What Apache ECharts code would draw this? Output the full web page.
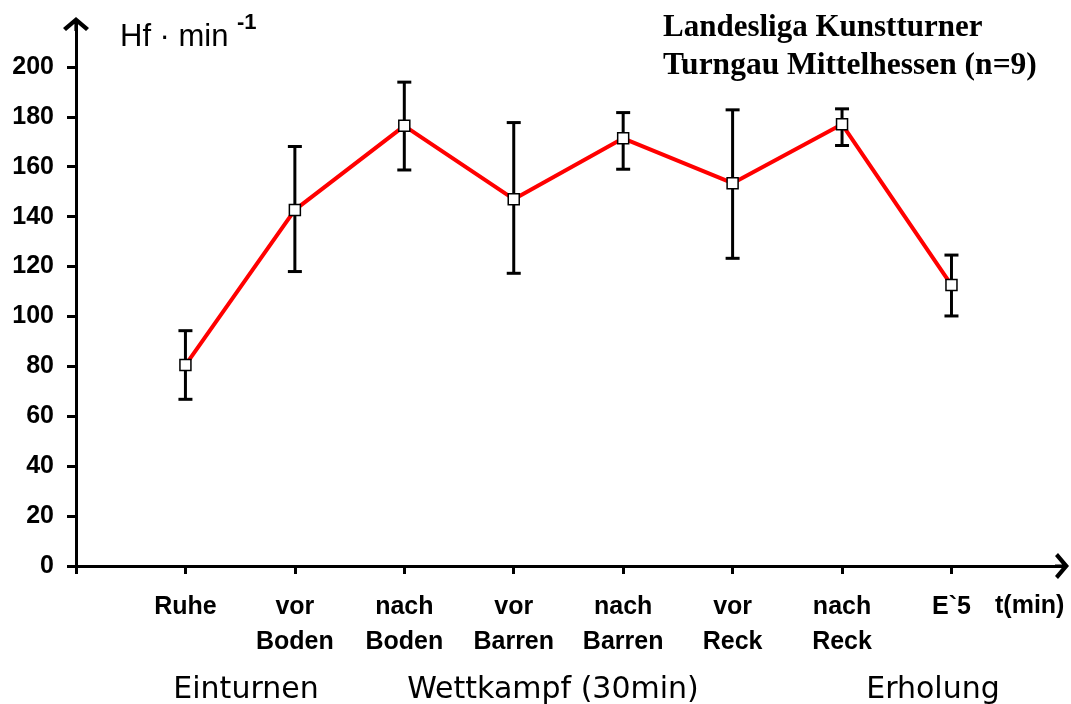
<!DOCTYPE html>
<html>
<head>
<meta charset="utf-8">
<script src="https://cdn.jsdelivr.net/npm/echarts@6/dist/echarts.min.js"></script>
<style>
html,body{margin:0;padding:0;background:#fff;}
#c{width:1071px;height:704px;}
</style>
</head>
<body>
<div id="c"></div>
<script>
// ---- data ----
var categories = ['Ruhe', 'vor\nBoden', 'nach\nBoden', 'vor\nBarren', 'nach\nBarren', 'vor\nReck', 'nach\nReck', 'E`5'];
var means = [80.5, 142.7, 176.4, 147.0, 171.4, 153.4, 177.0, 112.6];
var upper = [94.3, 168.1, 193.9, 177.7, 181.7, 182.8, 183.2, 124.6];
var lower = [66.8, 118.0, 158.7, 117.3, 159.0, 123.3, 168.5, 100.2];
var yTicks = [0, 20, 40, 60, 80, 100, 120, 140, 160, 180, 200];
var xPositions = [1, 2, 3, 4, 5, 6, 7, 8];
var xTicks = [0, 1, 2, 3, 4, 5, 6, 7, 8];
var groupLabels = ['Einturnen', 'Wettkampf (30min)', 'Erholung'];
var titleLines = ['Landesliga Kunstturner', 'Turngau Mittelhessen (n=9)'];

var lineData = means.map(function (v, i) { return [xPositions[i], v]; });
var errData = means.map(function (v, i) { return [xPositions[i], lower[i], upper[i]]; });

var arrowPath = 'path://M13,0 L26,11 L23,14 L13,5.6 L3,14 L0,11 Z M11.4,2 L14.6,2 L14.6,14 L11.4,14 Z';
var boldFont = '"Liberation Sans", Arial, sans-serif';
var serifFont = '"Liberation Serif", "Times New Roman", serif';

var chart = echarts.init(document.getElementById('c'), null, {renderer: 'canvas'});
chart.setOption({
  animation: false,
  backgroundColor: '#ffffff',
  grid: {left: 76, right: 9, top: 24, bottom: 138, containLabel: false},
  xAxis: {
    type: 'value',
    min: 0,
    max: 9.01,
    splitLine: {show: false},
    axisLine: {
      show: true, onZero: false,
      lineStyle: {color: '#000', width: 3},
      symbol: ['none', arrowPath],
      symbolSize: [26, 14]
    },
    axisTick: {show: true, length: 8, customValues: xTicks, lineStyle: {color: '#000', width: 3}},
    axisLabel: {
      show: true,
      customValues: xPositions,
      formatter: function (v) { return categories[Math.round(v) - 1] || ''; },
      color: '#000',
      fontFamily: boldFont,
      fontWeight: 'bold',
      fontSize: 25,
      lineHeight: 35,
      margin: 24,
      verticalAlign: 'top'
    }
  },
  yAxis: {
    type: 'value',
    min: 0,
    max: 217.2,
    splitLine: {show: false},
    axisLine: {
      show: true, onZero: false,
      lineStyle: {color: '#000', width: 3},
      symbol: ['none', arrowPath],
      symbolSize: [26, 14]
    },
    axisTick: {show: true, length: 9, customValues: yTicks, lineStyle: {color: '#000', width: 3}},
    axisLabel: {
      show: true,
      customValues: yTicks,
      color: '#000',
      fontFamily: boldFont,
      fontWeight: 'bold',
      fontSize: 25,
      margin: 22
    }
  },
  series: [
    {
      type: 'line',
      data: lineData,
      showSymbol: false,
      lineStyle: {color: '#ff0000', width: 4},
      z: 2
    },
    {
      type: 'custom',
      data: errData,
      z: 3,
      renderItem: function (params, api) {
        var x = api.value(0);
        var lo = api.coord([x, api.value(1)]);
        var hi = api.coord([x, api.value(2)]);
        var hw = 7;
        var st = {stroke: '#000', lineWidth: 3};
        return {
          type: 'group',
          children: [
            {type: 'line', shape: {x1: lo[0], y1: lo[1], x2: hi[0], y2: hi[1]}, style: st},
            {type: 'line', shape: {x1: hi[0] - hw, y1: hi[1], x2: hi[0] + hw, y2: hi[1]}, style: st},
            {type: 'line', shape: {x1: lo[0] - hw, y1: lo[1], x2: lo[0] + hw, y2: lo[1]}, style: st}
          ]
        };
      }
    },
    {
      type: 'scatter',
      data: lineData,
      symbol: 'rect',
      symbolSize: 11,
      itemStyle: {color: '#fff', borderColor: '#000', borderWidth: 1.5, opacity: 1},
      z: 4
    }
  ],
  graphic: [
    {type: 'text', left: 120, top: 22, style: {text: 'Hf · min', fontFamily: boldFont, fontSize: 31, fill: '#000'}},
    {type: 'text', left: 237, top: 12, style: {text: '-1', fontFamily: boldFont, fontWeight: 'bold', fontSize: 22, fill: '#000'}},
    {type: 'text', left: 663, top: 12, style: {text: titleLines[0], fontFamily: serifFont, fontWeight: 'bold', fontSize: 31, fill: '#000'}},
    {type: 'text', left: 663, top: 50, style: {text: titleLines[1], fontFamily: serifFont, fontWeight: 'bold', fontSize: 31.5, fill: '#000'}},
    {type: 'text', left: 995, top: 594, style: {text: 't(min)', fontFamily: boldFont, fontWeight: 'bold', fontSize: 25, fill: '#000'}},
    {type: 'text', x: 246, y: 690, style: {text: groupLabels[0], fontFamily: '"DejaVu Sans", sans-serif', fontSize: 30, fill: '#000', align: 'center', verticalAlign: 'middle'}},
    {type: 'text', x: 553, y: 690, style: {text: groupLabels[1], fontFamily: '"DejaVu Sans", sans-serif', fontSize: 30, fill: '#000', align: 'center', verticalAlign: 'middle'}},
    {type: 'text', x: 933, y: 690, style: {text: groupLabels[2], fontFamily: '"DejaVu Sans", sans-serif', fontSize: 30, fill: '#000', align: 'center', verticalAlign: 'middle'}}
  ]
});
</script>
</body>
</html>
